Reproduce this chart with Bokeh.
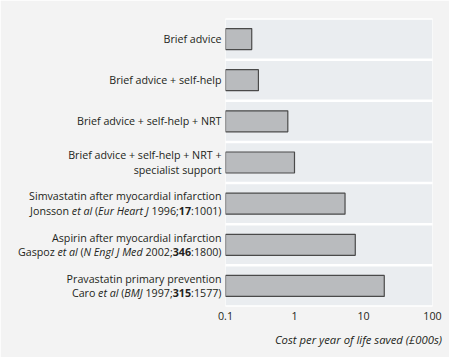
import glob
import os
import struct

from bokeh.plotting import figure
from bokeh.models import ColumnDataSource, Range1d, FixedTicker, BasicTickFormatter
from bokeh.core.properties import value
from bokeh.embed import file_html
from bokeh.resources import INLINE

# ---------------- data ----------------
LABEL_LINES = [
    [[("Brief advice", "normal")]],
    [[("Brief advice + self-help", "normal")]],
    [[("Brief advice + self-help + NRT", "normal")]],
    [[("Brief advice + self-help + NRT +", "normal")],
     [("specialist support", "normal")]],
    [[("Simvastatin after myocardial infarction", "normal")],
     [("Jonsson ", "normal"), ("et al", "italic"), (" (", "normal"), ("Eur Heart J", "italic"),
      (" 1996;", "normal"), ("17", "bold"), (":1001)", "normal")]],
    [[("Aspirin after myocardial infarction", "normal")],
     [("Gaspoz ", "normal"), ("et al", "italic"), (" (", "normal"), ("N Engl J Med", "italic"),
      (" 2002;", "normal"), ("346", "bold"), (":1800)", "normal")]],
    [[("Pravastatin primary prevention", "normal")],
     [("Caro ", "normal"), ("et al", "italic"), (" (", "normal"), ("BMJ", "italic"),
      (" 1997;", "normal"), ("315", "bold"), (":1577)", "normal")]],
]
COSTS = [0.24, 0.30, 0.80, 1.0, 5.4, 7.6, 20.0]
X_TICKS = [0.1, 1, 10, 100]
X_TITLE = "Cost per year of life saved (£000s)"

# ---------------- style ----------------
FONT = "Open Sans"
FS = 10.7
TITLE_FS = 11.3
LINE_H = 14.4
GAP = 4
TEXT_COLOR = "#231f20"
OUTER_BG = "#f3f3f3"
BAND = "#eaedf0"
BAR_FILL = "#b9bbbe"
BAR_LINE = "#4a4a4a"


# ---------------- font metrics (for mixed-style label placement) ----------------
def _find(name):
    roots = ["/usr/share/fonts", "/usr/local/share/fonts",
             os.path.expanduser("~/.fonts"), os.path.expanduser("~/.local/share/fonts")]
    for r in roots:
        hits = sorted(glob.glob(os.path.join(r, "**", name), recursive=True))
        if hits:
            return hits[0]
    return None


def _load(path):
    data = open(path, "rb").read()
    n = struct.unpack(">H", data[4:6])[0]
    tables = {}
    for i in range(n):
        tag, _, off, ln = struct.unpack(">4sIII", data[12 + 16 * i:28 + 16 * i])
        tables[tag.decode("latin1")] = off
    upem = struct.unpack(">H", data[tables["head"] + 18:tables["head"] + 20])[0]
    hh = tables["hhea"]
    num_hm = struct.unpack(">H", data[hh + 34:hh + 36])[0]
    hm = tables["hmtx"]
    adv = [struct.unpack(">H", data[hm + 4 * i:hm + 4 * i + 2])[0] for i in range(num_hm)]
    cm = tables["cmap"]
    nsub = struct.unpack(">H", data[cm + 2:cm + 4])[0]
    cmap = {}
    for i in range(nsub):
        pid, eid, off = struct.unpack(">HHI", data[cm + 4 + 8 * i:cm + 12 + 8 * i])
        sub = cm + off
        fmt = struct.unpack(">H", data[sub:sub + 2])[0]
        if fmt != 4 or pid not in (0, 3):
            continue
        segx2 = struct.unpack(">H", data[sub + 6:sub + 8])[0]
        segs = segx2 // 2
        ends = struct.unpack(">%dH" % segs, data[sub + 14:sub + 14 + segx2])
        starts = struct.unpack(">%dH" % segs, data[sub + 16 + segx2:sub + 16 + 2 * segx2])
        deltas = struct.unpack(">%dh" % segs, data[sub + 16 + 2 * segx2:sub + 16 + 3 * segx2])
        rpos = sub + 16 + 3 * segx2
        roffs = struct.unpack(">%dH" % segs, data[rpos:rpos + segx2])
        for s in range(segs):
            for c in range(starts[s], min(ends[s], 0x2FFF) + 1):
                if roffs[s] == 0:
                    g = (c + deltas[s]) & 0xFFFF
                else:
                    a = rpos + 2 * s + roffs[s] + 2 * (c - starts[s])
                    g = struct.unpack(">H", data[a:a + 2])[0]
                    if g:
                        g = (g + deltas[s]) & 0xFFFF
                cmap[c] = g
        break

    def width(text, size):
        tot = 0
        for ch in text:
            g = cmap.get(ord(ch), 0)
            tot += adv[min(g, num_hm - 1)]
        return tot * size / upem
    return width


FONT_FILES = {"normal": "OpenSans-Regular.ttf", "italic": "OpenSans-Italic.ttf", "bold": "OpenSans-Bold.ttf"}
_measure = {}
for style, fname in FONT_FILES.items():
    fn = None
    try:
        path = _find(fname) or _find("OpenSans*.ttf")
        if path:
            fn = _load(path)
    except Exception:  # fall back to a rough estimate
        fn = None
    _measure[style] = fn


def text_width(text, style):
    fn = _measure.get(style)
    if fn is None:
        return len(text) * 0.55 * FS
    return fn(text, FS)


# ---------------- figure ----------------
ys = list(range(len(COSTS)))
p = figure(width=449, height=357, x_axis_type="log",
           x_range=Range1d(X_TICKS[0], X_TICKS[-1]),
           y_range=Range1d(len(COSTS) - 0.5, -0.5),
           y_axis_location=None, output_backend="svg", toolbar_location=None,
           min_border_left=225, min_border_right=17, min_border_top=18, min_border_bottom=51)
p.background_fill_color = "white"
p.border_fill_color = OUTER_BG
p.outline_line_color = None
p.grid.visible = False
p.styles = {"outline": "1px solid #cdcdcd", "outline-offset": "-3px"}

# background bands per category
p.hbar(y=ys, left=X_TICKS[0], right=X_TICKS[-1], height=0.94,
       fill_color=BAND, line_color=None)
# data bars
p.hbar(y=ys, left=X_TICKS[0], right=COSTS, height=0.51,
       fill_color=BAR_FILL, line_color=BAR_LINE, line_width=1.2)

# x axis
ax = p.xaxis[0]
ax.ticker = FixedTicker(ticks=X_TICKS)
ax.formatter = BasicTickFormatter(use_scientific=False)
ax.axis_line_color = None
ax.major_tick_line_color = None
ax.minor_tick_line_color = None
ax.major_tick_out = 0
ax.major_tick_in = 0
ax.major_label_standoff = 5
ax.major_label_text_font = FONT
ax.major_label_text_font_size = f"{FS}px"
ax.major_label_text_color = TEXT_COLOR

# category labels (right aligned, mixed styles)
rows = dict(x=[], y=[], text=[], xo=[], yo=[], style=[])
for i, lines in enumerate(LABEL_LINES):
    n = len(lines)
    for j, segs in enumerate(lines):
        dy = (j - (n - 1) / 2) * LINE_H
        cursor = -GAP
        for text, style in reversed(segs):
            w = text_width(text, style)
            core = text.strip(" ")
            trail = len(text) - len(text.rstrip(" "))
            right = cursor - trail * text_width(" ", style)
            rows["x"].append(X_TICKS[0])
            rows["y"].append(i)
            rows["text"].append(core)
            rows["xo"].append(right)
            rows["yo"].append(dy)
            rows["style"].append(style)
            cursor -= w

lab = p.text(x="x", y="y", text="text", x_offset="xo", y_offset="yo",
             source=ColumnDataSource(rows), text_align="right", text_baseline="middle",
             text_font=value(FONT), text_font_size=f"{FS}px", text_font_style="style",
             text_color=TEXT_COLOR)
lab.level = "overlay"

# axis title (right aligned, italic)
t = p.text(x=[X_TICKS[-1]], y=[len(COSTS) - 0.5], text=[X_TITLE], x_offset=9.5, y_offset=33,
           text_align="right", text_baseline="middle", text_font=value(FONT),
           text_font_size=f"{TITLE_FS}px", text_font_style="italic", text_color=TEXT_COLOR)
t.level = "overlay"

open("out.html", "w").write(file_html(p, INLINE))
